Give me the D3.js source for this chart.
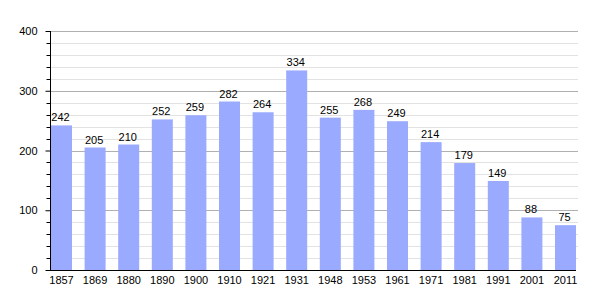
<!DOCTYPE html>
<html>
  <head>
    <meta charset="utf-8">
    <title></title>
  </head>
  <style>
  body{ margin:0; font-family: "Liberation Sans", "helvetica"; background:#fff; }
  </style>
  <script src="https://d3js.org/d3.v7.min.js"></script>
  <body>
    <script>
    var years = ["1857","1869","1880","1890","1900","1910","1921","1931","1948","1953","1961","1971","1981","1991","2001","2011"]
    var population = [242,205,210,252,259,282,264,334,255,268,249,214,179,149,88,75]
    var yTicks = [0,100,200,300,400]

    var width = 605, height = 300
    var padLeft = 50, padRight = 576, padTop = 31, padBottom = 270

    var svg = d3.select("body").append("svg")
                .attr("width", width)
                .attr("height", height)

    var xScale = d3.scaleBand()
                   .domain(years)
                   .range([padLeft + 1, padRight])
                   .paddingInner(0.375)
                   .paddingOuter(0)

    var yScale = d3.scaleLinear()
                   .domain([0, 400])
                   .range([padBottom, padTop])

    // grid lines
    var minor = d3.range(20, 401, 20).filter(function(v){ return v % 100 != 0 })
    svg.append("g").selectAll("line")
       .data(minor).enter().append("line")
       .attr("x1", padLeft).attr("x2", padRight + 2)
       .attr("y1", function(d){ return Math.round(yScale(d)) + 0.5 })
       .attr("y2", function(d){ return Math.round(yScale(d)) + 0.5 })
       .attr("stroke", "#e2e2e2")
    svg.append("g").selectAll("line")
       .data(yTicks.slice(1)).enter().append("line")
       .attr("x1", padLeft).attr("x2", padRight + 2)
       .attr("y1", function(d){ return Math.round(yScale(d)) + 0.5 })
       .attr("y2", function(d){ return Math.round(yScale(d)) + 0.5 })
       .attr("stroke", "#b0b0b0")

    // bars
    svg.append("g").selectAll("rect")
       .data(population).enter().append("rect")
       .attr("x", function(d, i){ return xScale(years[i]) })
       .attr("y", function(d){ return yScale(d) })
       .attr("width", xScale.bandwidth())
       .attr("height", function(d){ return padBottom - yScale(d) })
       .attr("fill", "#99aaff")

    // value labels
    svg.append("g").selectAll("text")
       .data(population).enter().append("text")
       .attr("x", function(d, i){ return xScale(years[i]) + xScale.bandwidth() / 2 - 1 })
       .attr("y", function(d){ return yScale(d) - 4 })
       .attr("text-anchor", "middle")
       .attr("font-size", "11px")
       .attr("fill", "#000")
       .text(function(d){ return d })

    // y axis
    var yAxis = d3.axisLeft(yScale).tickValues(yTicks).tickSize(5).tickPadding(8)
    var gy = svg.append("g")
       .attr("transform", "translate(" + (padLeft + 0.5) + ",0)")
       .call(yAxis)
    gy.select(".domain").attr("d", "M0," + padTop + "V" + padBottom).attr("stroke", "#000")
    gy.selectAll("text").attr("font-size", "11px").attr("font-family", "Liberation Sans")
    gy.selectAll(".minor").data(minor).enter().append("line")
      .attr("x1", -4).attr("x2", 0)
      .attr("y1", function(d){ return Math.round(yScale(d)) + 0.5 })
      .attr("y2", function(d){ return Math.round(yScale(d)) + 0.5 })
      .attr("stroke", "#000")

    // x axis
    var xAxis = d3.axisBottom(xScale).tickSize(0).tickPadding(6)
    var gx = svg.append("g")
       .attr("transform", "translate(0," + (padBottom + 0.5) + ")")
       .call(xAxis)
    gx.select(".domain").attr("d", "M" + padLeft + ",0H" + padRight).attr("stroke", "#000")
    gx.selectAll("text").attr("font-size", "11px").attr("font-family", "Liberation Sans")
    </script>
  </body>
</html>
